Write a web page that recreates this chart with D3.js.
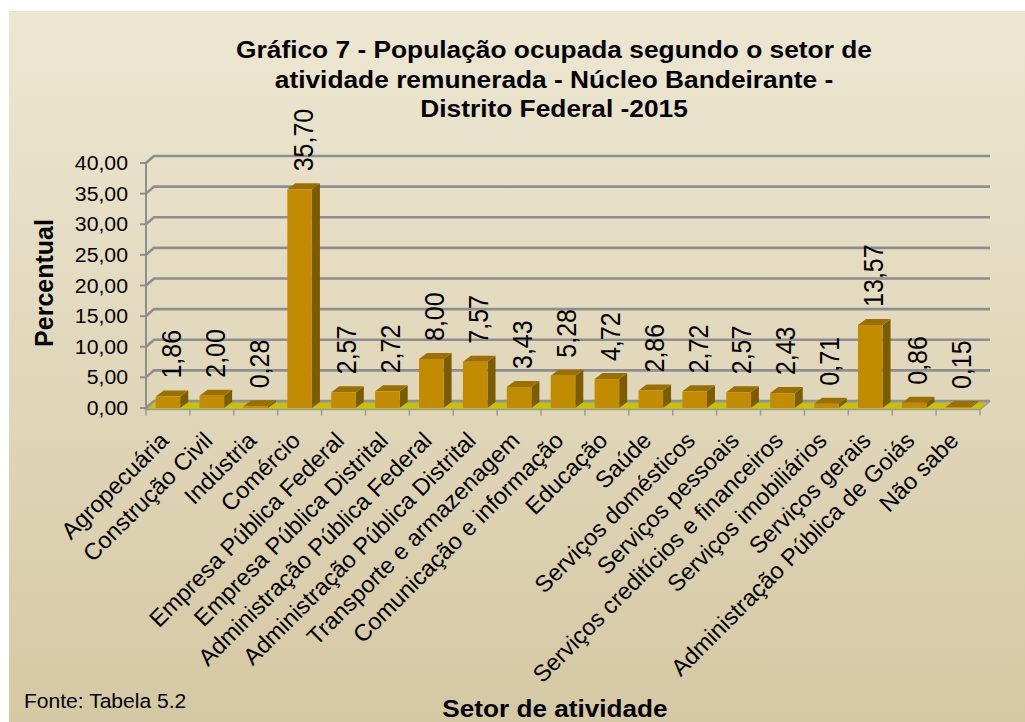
<!DOCTYPE html>
<html>
<head>
<meta charset="utf-8">
<script src="https://cdn.jsdelivr.net/npm/d3@7"></script>
<style>
  html, body { margin: 0; padding: 0; background: #fff; }
  text { font-family: Arial, "Liberation Sans", sans-serif; fill: #000; }
</style>
</head>
<body>
<script>
// data
var categories = ["Agropecuária", "Construção Civil", "Indústria", "Comércio",
  "Empresa Pública Federal", "Empresa Pública Distrital", "Administração Pública Federal",
  "Administração Pública Distrital", "Transporte e armazenagem", "Comunicação e informação",
  "Educação", "Saúde", "Serviços domésticos", "Serviços pessoais",
  "Serviços creditícios e financeiros", "Serviços imobiliários", "Serviços gerais",
  "Administração Pública de Goiás", "Não sabe"];
var values = [1.86, 2.00, 0.28, 35.70, 2.57, 2.72, 8.00, 7.57, 3.43, 5.28, 4.72,
  2.86, 2.72, 2.57, 2.43, 0.71, 13.57, 0.86, 0.15];
var yTicks = [0, 5, 10, 15, 20, 25, 30, 35, 40];
var titleLines = ["Gráfico 7 - População ocupada segundo o setor de",
  "atividade remunerada - Núcleo Bandeirante -",
  "Distrito Federal -2015"];

var W = 1025, H = 722;
var fmt = function(v) { return v.toFixed(2).replace(".", ","); };

var svg = d3.select("body")
  .append("svg")
  .attr("width", W)
  .attr("height", H);

// background gradient
var defs = svg.append("defs");
var grad = defs.append("linearGradient").attr("id", "bg")
  .attr("x1", 0).attr("y1", 0).attr("x2", 0).attr("y2", 1);
grad.append("stop").attr("offset", "0%").attr("stop-color", "#ede7d2");
grad.append("stop").attr("offset", "100%").attr("stop-color", "#d5c8a4");

svg.append("rect")
  .attr("x", 9).attr("y", 11)
  .attr("width", W - 9).attr("height", H - 11)
  .attr("fill", "url(#bg)");

// scales
var x = d3.scaleBand()
  .domain(categories)
  .range([146, 980])
  .paddingInner(0.44)
  .paddingOuter(0.22);

var y = d3.scaleLinear()
  .domain([0, 40])
  .range([408, 163]);

// 3d offsets
var wallDx = 8, wallDy = 7;
var barDx = 8, barDy = 6;
var backRight = 990;

// back wall gridlines
var grid = svg.append("g");
grid.selectAll("polyline")
  .data(yTicks)
  .enter().append("polyline")
  .attr("points", function(d) {
    var yy = y(d);
    return [[146, yy], [146 + wallDx, yy - wallDy], [backRight, yy - wallDy]].join(" ");
  })
  .attr("fill", "none")
  .attr("stroke", "#8e8e8e")
  .attr("stroke-width", 2.6);

// floor
var y0 = y(0) + 1.5;
svg.append("polygon")
  .attr("points", [[146, y0], [980, y0], [980 + wallDx + 1, y0 - wallDy - 0.5], [146 + wallDx, y0 - wallDy - 0.5]].join(" "))
  .attr("fill", "#c9c200")
  .attr("stroke", "#9a9a9a")
  .attr("stroke-width", 1.5);

// bars
var bars = svg.append("g");
var bw = x.bandwidth();
categories.forEach(function(c, i) {
  var v = values[i];
  var x0 = x(c), x1 = x0 + bw;
  var top = y(v), base = y(0);
  var g = bars.append("g");
  // side
  g.append("polygon")
    .attr("points", [[x1, base], [x1 + barDx, base - barDy], [x1 + barDx, top - barDy], [x1, top]].join(" "))
    .attr("fill", "#7c5c00");
  // top
  g.append("polygon")
    .attr("points", [[x0, top], [x0 + barDx, top - barDy], [x1 + barDx, top - barDy], [x1, top]].join(" "))
    .attr("fill", "#9a7100");
  // front
  g.append("rect")
    .attr("x", x0).attr("y", top)
    .attr("width", bw).attr("height", base - top)
    .attr("fill", "#c28c00");
});

// front y axis line and ticks
svg.append("line")
  .attr("x1", 146).attr("x2", 146)
  .attr("y1", y(40)).attr("y2", y0)
  .attr("stroke", "#8e8e8e").attr("stroke-width", 2);

svg.append("g").selectAll("line")
  .data(yTicks)
  .enter().append("line")
  .attr("x1", 140).attr("x2", 146)
  .attr("y1", function(d) { return y(d); })
  .attr("y2", function(d) { return y(d); })
  .attr("stroke", "#8e8e8e").attr("stroke-width", 2);

svg.append("g").selectAll("text")
  .data(yTicks)
  .enter().append("text")
  .attr("transform", function(d) { return "translate(128," + (y(d) + 7) + ") scale(1.09,1)"; })
  .attr("text-anchor", "end")
  .style("font-size", "19.5px")
  .text(fmt);

// x axis front edge ticks
var step = x.step();
svg.append("g").selectAll("line")
  .data(d3.range(categories.length + 1))
  .enter().append("line")
  .attr("x1", function(i) { return 146 + i * step; })
  .attr("x2", function(i) { return 146 + i * step; })
  .attr("y1", y0).attr("y2", y0 + 6)
  .attr("stroke", "#9a9a9a").attr("stroke-width", 1.5);

// data labels
svg.append("g").selectAll("text")
  .data(values)
  .enter().append("text")
  .attr("transform", function(d, i) {
    var cx = x(categories[i]) + bw / 2 + 3;
    return "translate(" + cx + "," + (y(d) - 18) + ") scale(1.1,1) rotate(-90)";
  })
  .attr("dy", "0.36em")
  .style("font-size", "25px")
  .text(fmt);

// category labels
svg.append("g").selectAll("text")
  .data(categories)
  .enter().append("text")
  .attr("transform", function(d) {
    var cx = x(d) + bw / 2 + 2;
    return "translate(" + cx + ",442) rotate(-45)";
  })
  .attr("text-anchor", "end")
  .style("font-size", "23.5px")
  .text(function(d) { return d; });

// title
svg.append("g").selectAll("text")
  .data(titleLines)
  .enter().append("text")
  .attr("transform", function(d, i) { return "translate(554," + (58 + i * 29.5) + ") scale(1.12,1)"; })
  .attr("text-anchor", "middle")
  .style("font-size", "23.5px")
  .style("font-weight", "bold")
  .text(function(d) { return d; });

// axis titles
svg.append("text")
  .attr("transform", "translate(53,283) rotate(-90)")
  .attr("text-anchor", "middle")
  .style("font-size", "25px")
  .style("font-weight", "bold")
  .text("Percentual");

svg.append("text")
  .attr("transform", "translate(555,717) scale(1.09,1)")
  .attr("text-anchor", "middle")
  .style("font-size", "24px")
  .style("font-weight", "bold")
  .text("Setor de atividade");

svg.append("text")
  .attr("transform", "translate(24,708) scale(1.08,1)")
  .style("font-size", "19.5px")
  .text("Fonte: Tabela 5.2");
</script>
</body>
</html>
